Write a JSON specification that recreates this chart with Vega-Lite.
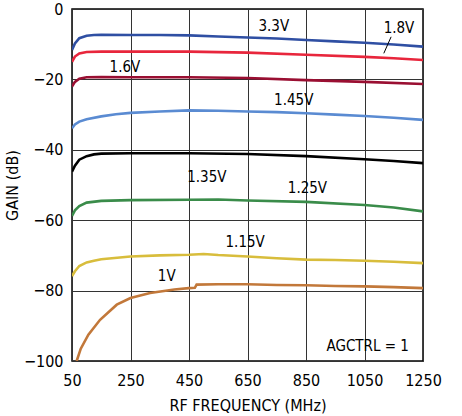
{
  "$schema": "https://vega.github.io/schema/vega-lite/v6.json",
  "width": 351,
  "height": 352,
  "autosize": "none",
  "padding": {"left": 72, "top": 9, "right": 39, "bottom": 55},
  "config": {
    "view": {"stroke": "black", "strokeWidth": 1.5},
    "font": "DejaVu Sans Condensed, Liberation Sans",
    "axis": {"labelFont": "DejaVu Sans Condensed, Liberation Sans", "titleFont": "DejaVu Sans Condensed, Liberation Sans", "labelColor": "black", "titleColor": "black", "titleFontWeight": "normal", "gridColor": "#333", "gridOpacity": 1, "gridWidth": 1, "ticks": false, "domain": false, "labelFontSize": 16, "titleFontSize": 16, "labelFlush": false, "labelOverlap": false}
  },
  "datasets": {
    "curves": [
      {"s": "3.3V", "f": 50, "g": -11.6}, {"s": "3.3V", "f": 60, "g": -9.8}, {"s": "3.3V", "f": 75, "g": -8.3}, {"s": "3.3V", "f": 100, "g": -7.6}, {"s": "3.3V", "f": 125, "g": -7.4}, {"s": "3.3V", "f": 150, "g": -7.3}, {"s": "3.3V", "f": 250, "g": -7.4}, {"s": "3.3V", "f": 350, "g": -7.4}, {"s": "3.3V", "f": 450, "g": -7.5}, {"s": "3.3V", "f": 550, "g": -7.8}, {"s": "3.3V", "f": 650, "g": -8.1}, {"s": "3.3V", "f": 750, "g": -8.4}, {"s": "3.3V", "f": 850, "g": -8.8}, {"s": "3.3V", "f": 950, "g": -9.2}, {"s": "3.3V", "f": 1050, "g": -9.6}, {"s": "3.3V", "f": 1150, "g": -10.1}, {"s": "3.3V", "f": 1250, "g": -10.7},
      {"s": "1.8V", "f": 50, "g": -15.0}, {"s": "1.8V", "f": 60, "g": -13.5}, {"s": "1.8V", "f": 75, "g": -12.6}, {"s": "1.8V", "f": 100, "g": -12.2}, {"s": "1.8V", "f": 150, "g": -12.1}, {"s": "1.8V", "f": 250, "g": -12.1}, {"s": "1.8V", "f": 450, "g": -12.1}, {"s": "1.8V", "f": 650, "g": -12.4}, {"s": "1.8V", "f": 850, "g": -13.0}, {"s": "1.8V", "f": 1050, "g": -13.6}, {"s": "1.8V", "f": 1150, "g": -14.0}, {"s": "1.8V", "f": 1250, "g": -14.5},
      {"s": "1.6V", "f": 50, "g": -22.0}, {"s": "1.6V", "f": 60, "g": -20.7}, {"s": "1.6V", "f": 75, "g": -19.8}, {"s": "1.6V", "f": 100, "g": -19.4}, {"s": "1.6V", "f": 150, "g": -19.3}, {"s": "1.6V", "f": 250, "g": -19.4}, {"s": "1.6V", "f": 450, "g": -19.4}, {"s": "1.6V", "f": 650, "g": -19.6}, {"s": "1.6V", "f": 850, "g": -20.2}, {"s": "1.6V", "f": 1050, "g": -20.7}, {"s": "1.6V", "f": 1250, "g": -21.3},
      {"s": "1.45V", "f": 50, "g": -33.9}, {"s": "1.45V", "f": 60, "g": -32.8}, {"s": "1.45V", "f": 75, "g": -32.0}, {"s": "1.45V", "f": 100, "g": -31.3}, {"s": "1.45V", "f": 150, "g": -30.5}, {"s": "1.45V", "f": 200, "g": -29.9}, {"s": "1.45V", "f": 250, "g": -29.5}, {"s": "1.45V", "f": 350, "g": -29.1}, {"s": "1.45V", "f": 450, "g": -28.8}, {"s": "1.45V", "f": 550, "g": -28.9}, {"s": "1.45V", "f": 650, "g": -29.1}, {"s": "1.45V", "f": 750, "g": -29.3}, {"s": "1.45V", "f": 850, "g": -29.6}, {"s": "1.45V", "f": 950, "g": -30.0}, {"s": "1.45V", "f": 1050, "g": -30.4}, {"s": "1.45V", "f": 1150, "g": -30.9}, {"s": "1.45V", "f": 1250, "g": -31.5},
      {"s": "1.35V", "f": 50, "g": -46.2}, {"s": "1.35V", "f": 60, "g": -44.5}, {"s": "1.35V", "f": 75, "g": -42.8}, {"s": "1.35V", "f": 100, "g": -41.8}, {"s": "1.35V", "f": 125, "g": -41.3}, {"s": "1.35V", "f": 150, "g": -41.1}, {"s": "1.35V", "f": 250, "g": -41.0}, {"s": "1.35V", "f": 450, "g": -41.0}, {"s": "1.35V", "f": 650, "g": -41.2}, {"s": "1.35V", "f": 850, "g": -41.8}, {"s": "1.35V", "f": 1050, "g": -42.7}, {"s": "1.35V", "f": 1150, "g": -43.2}, {"s": "1.35V", "f": 1250, "g": -43.8},
      {"s": "1.25V", "f": 50, "g": -58.8}, {"s": "1.25V", "f": 60, "g": -57.2}, {"s": "1.25V", "f": 75, "g": -56.0}, {"s": "1.25V", "f": 100, "g": -55.0}, {"s": "1.25V", "f": 150, "g": -54.5}, {"s": "1.25V", "f": 250, "g": -54.3}, {"s": "1.25V", "f": 450, "g": -54.2}, {"s": "1.25V", "f": 550, "g": -54.1}, {"s": "1.25V", "f": 650, "g": -54.4}, {"s": "1.25V", "f": 850, "g": -54.8}, {"s": "1.25V", "f": 1050, "g": -55.7}, {"s": "1.25V", "f": 1150, "g": -56.4}, {"s": "1.25V", "f": 1250, "g": -57.5},
      {"s": "1.15V", "f": 50, "g": -75.9}, {"s": "1.15V", "f": 60, "g": -74.5}, {"s": "1.15V", "f": 75, "g": -73.0}, {"s": "1.15V", "f": 100, "g": -72.0}, {"s": "1.15V", "f": 125, "g": -71.5}, {"s": "1.15V", "f": 150, "g": -71.1}, {"s": "1.15V", "f": 250, "g": -70.3}, {"s": "1.15V", "f": 350, "g": -70.0}, {"s": "1.15V", "f": 450, "g": -69.8}, {"s": "1.15V", "f": 500, "g": -69.6}, {"s": "1.15V", "f": 550, "g": -69.9}, {"s": "1.15V", "f": 650, "g": -70.3}, {"s": "1.15V", "f": 750, "g": -70.8}, {"s": "1.15V", "f": 850, "g": -71.2}, {"s": "1.15V", "f": 950, "g": -71.3}, {"s": "1.15V", "f": 1050, "g": -71.5}, {"s": "1.15V", "f": 1150, "g": -71.8}, {"s": "1.15V", "f": 1250, "g": -72.2},
      {"s": "1V", "f": 66, "g": -100.0}, {"s": "1V", "f": 80, "g": -96.5}, {"s": "1V", "f": 106, "g": -92.5}, {"s": "1V", "f": 146, "g": -88.3}, {"s": "1V", "f": 203, "g": -84.0}, {"s": "1V", "f": 250, "g": -82.1}, {"s": "1V", "f": 317, "g": -80.7}, {"s": "1V", "f": 400, "g": -79.7}, {"s": "1V", "f": 449, "g": -79.3}, {"s": "1V", "f": 470, "g": -79.2}, {"s": "1V", "f": 476, "g": -78.3}, {"s": "1V", "f": 550, "g": -78.2}, {"s": "1V", "f": 650, "g": -78.2}, {"s": "1V", "f": 750, "g": -78.4}, {"s": "1V", "f": 850, "g": -78.5}, {"s": "1V", "f": 950, "g": -78.7}, {"s": "1V", "f": 1050, "g": -78.8}, {"s": "1V", "f": 1150, "g": -79.0}, {"s": "1V", "f": 1250, "g": -79.3}
    ],
    "labels": [
      {"t": "3.3V", "f": 740, "g": -4.8},
      {"t": "1.8V", "f": 1168, "g": -5.4},
      {"t": "1.6V", "f": 231, "g": -16.4},
      {"t": "1.45V", "f": 808, "g": -25.9},
      {"t": "1.35V", "f": 511, "g": -47.6},
      {"t": "1.25V", "f": 855, "g": -50.9},
      {"t": "1.15V", "f": 642, "g": -66.2},
      {"t": "1V", "f": 374, "g": -75.9},
      {"t": "AGCTRL = 1", "f": 1061, "g": -95.8}
    ],
    "leader": [
      {"f": 1141, "g": -7.9, "f2": 1116, "g2": -12.6}
    ]
  },
  "layer": [
    {
      "data": {"name": "curves"},
      "mark": {"type": "line", "strokeWidth": 2.6, "clip": true},
      "encoding": {
        "x": {"field": "f", "type": "quantitative", "scale": {"domain": [50, 1250], "nice": false}, "axis": {"values": [50, 250, 450, 650, 850, 1050, 1250], "format": "d", "grid": true, "title": "RF FREQUENCY (MHz)", "labelPadding": 11, "titlePadding": 9}},
        "y": {"field": "g", "type": "quantitative", "scale": {"domain": [-100, 0], "nice": false}, "axis": {"values": [-100, -80, -60, -40, -20, 0], "format": "d", "grid": true, "title": "GAIN (dB)", "labelPadding": 9, "titlePadding": 3}},
        "color": {"field": "s", "type": "nominal", "legend": null, "scale": {"domain": ["3.3V", "1.8V", "1.6V", "1.45V", "1.35V", "1.25V", "1.15V", "1V"], "range": ["#2f4fa3", "#e8263c", "#9a0f32", "#5a8bd2", "#000000", "#3a8c4a", "#d8bd3c", "#c2783a"]}},
        "detail": {"field": "s"}
      }
    },
    {
      "data": {"name": "leader"},
      "mark": {"type": "rule", "color": "black", "strokeWidth": 1},
      "encoding": {
        "x": {"field": "f", "type": "quantitative"},
        "y": {"field": "g", "type": "quantitative"},
        "x2": {"field": "f2"},
        "y2": {"field": "g2"}
      }
    },
    {
      "data": {"name": "labels"},
      "mark": {"type": "text", "fontSize": 15, "color": "black", "font": "DejaVu Sans Condensed, Liberation Sans"},
      "encoding": {
        "x": {"field": "f", "type": "quantitative"},
        "y": {"field": "g", "type": "quantitative"},
        "text": {"field": "t"}
      }
    }
  ]
}
